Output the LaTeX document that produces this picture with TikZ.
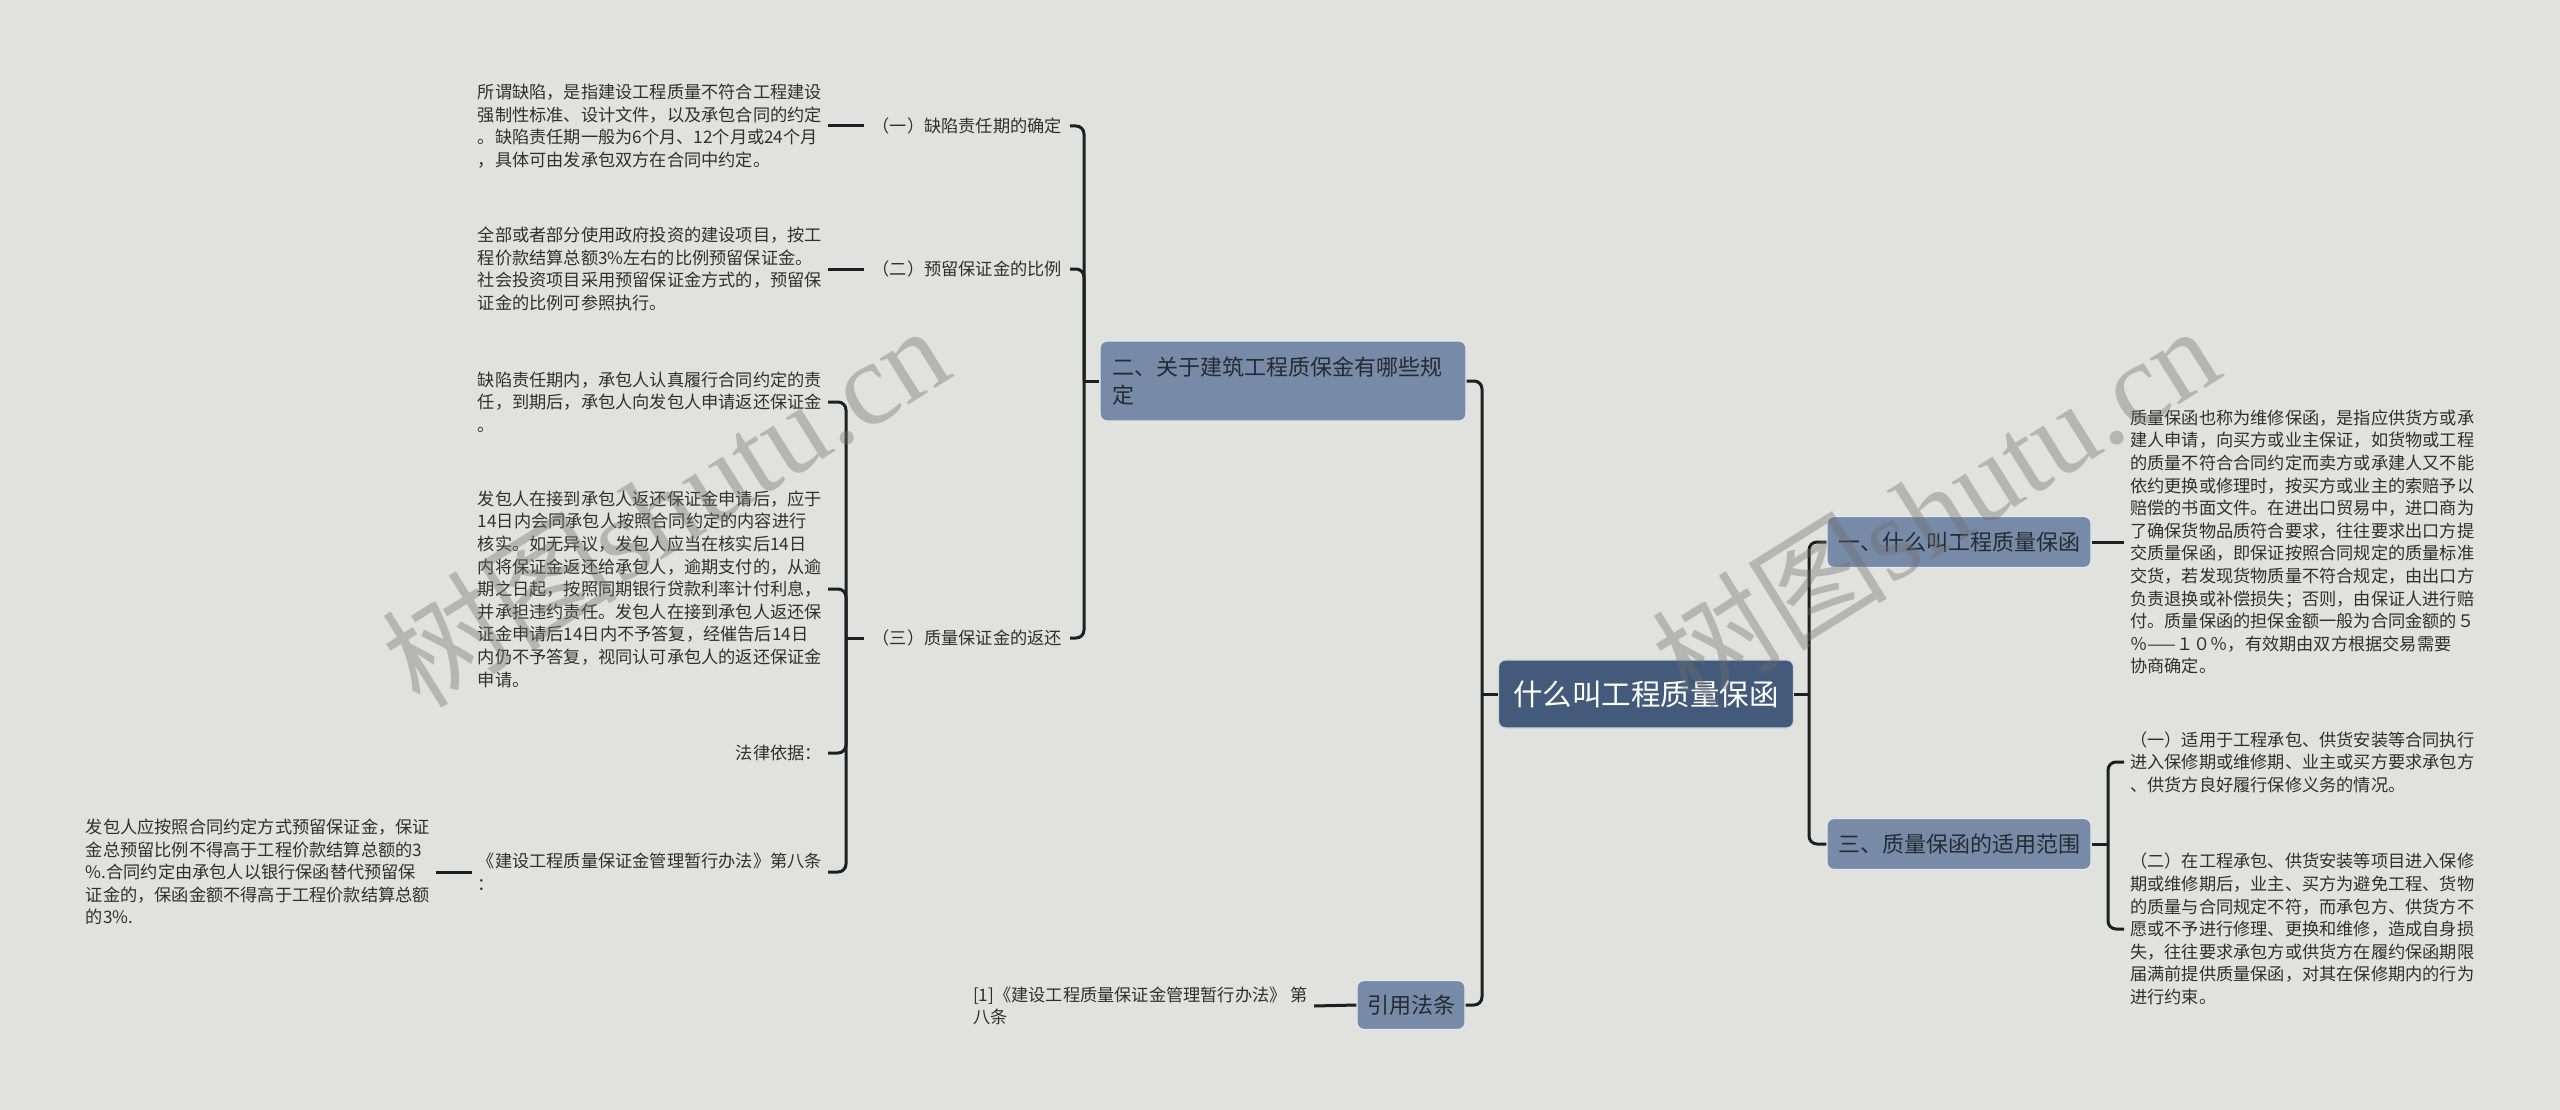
\documentclass[tikz,border=0pt]{standalone}
\usepackage{fontspec}
\setmainfont{Noto Sans CJK SC}
\newfontfamily\wmlatin{Liberation Serif}
\definecolor{bgc}{RGB}{225,225,221}
\definecolor{rootfill}{RGB}{67,90,122}
\definecolor{lvlfill}{RGB}{119,139,168}
\definecolor{lvltext}{RGB}{38,42,50}
\definecolor{linec}{RGB}{28,31,36}
\definecolor{leaftext}{RGB}{48,48,48}
\definecolor{wmc}{RGB}{110,110,108}
\newcommand\leaffont{\fontsize{17.2pt}{22.6pt}\selectfont}
\newcommand\boxfont{\fontsize{22pt}{28pt}\selectfont}
\newcommand\rootfont{\fontsize{29.5pt}{34pt}\selectfont}
\tikzset{
  conn/.style={draw=linec, line width=3pt, rounded corners=8pt},
  leaf/.style={font=\leaffont, text=leaftext, align=left, inner xsep=6pt, inner ysep=2pt},
  lbl/.style={font=\leaffont, text=leaftext, inner xsep=8pt, inner ysep=2pt, anchor=east},
  lvl/.style={fill=lvlfill, draw=white!80!lvlfill, line width=1.2pt, rounded corners=7pt,
              text=lvltext, font=\boxfont, inner sep=0pt},
  rootbox/.style={fill=rootfill, draw=white!75!rootfill, line width=1.2pt, rounded corners=7pt,
              text=white, font=\rootfont, inner sep=0pt, minimum width=295pt, minimum height=68pt},
  wm/.style={text=wmc, opacity=0.38, font=\fontsize{118pt}{120pt}\selectfont, inner sep=0pt}
}
\begin{document}
\begin{tikzpicture}[x=1pt,y=-1pt]
\useasboundingbox (0,0) rectangle (2560,1110);
\fill[bgc] (0,0) rectangle (2560,1110);

% root
\node[rootbox] (root) at (1646,694) {什么叫工程质量保函};

% level 1
\node[lvl, minimum width=366pt, minimum height=80pt, text width=342pt, align=left]
  (n2) at (1283,381) {二、关于建筑工程质保金有哪些规\\定};
\node[lvl, minimum width=108pt, minimum height=49pt] (cite) at (1411,1005) {引用法条};
\node[lvl, minimum width=264pt, minimum height=51pt] (n1) at (1959,542) {一、什么叫工程质量保函};
\node[lvl, minimum width=264pt, minimum height=51pt] (n3) at (1959,844) {三、质量保函的适用范围};

% junctions
\coordinate (jL) at (1482,694);
\coordinate (jR) at (1809,694);
\coordinate (j2) at (1084,381);
\coordinate (j3) at (846,638);
\coordinate (j4) at (2108,844);

% level 2 labels under n2
\node[lbl] (c1) at (1070,126) {（一）缺陷责任期的确定};
\node[lbl] (c2) at (1070,269) {（二）预留保证金的比例};
\node[lbl] (c3) at (1070,638) {（三）质量保证金的返还};

% leaves of c1, c2
\node[leaf, anchor=east] (l1) at (828,126) {所谓缺陷，是指建设工程质量不符合工程建设\\强制性标准、设计文件，以及承包合同的约定\\。缺陷责任期一般为6个月、12个月或24个月\\，具体可由发承包双方在合同中约定。};
\node[leaf, anchor=east] (l2) at (828,269) {全部或者部分使用政府投资的建设项目，按工\\程价款结算总额3\%左右的比例预留保证金。\\社会投资项目采用预留保证金方式的，预留保\\证金的比例可参照执行。};

% children of c3
\node[leaf, anchor=east] (d1) at (828,402) {缺陷责任期内，承包人认真履行合同约定的责\\任，到期后，承包人向发包人申请返还保证金\\。};
\node[leaf, anchor=east] (d2) at (828,589) {发包人在接到承包人返还保证金申请后，应于\\14日内会同承包人按照合同约定的内容进行\\核实。如无异议，发包人应当在核实后14日\\内将保证金返还给承包人，逾期支付的，从逾\\期之日起，按照同期银行贷款利率计付利息，\\并承担违约责任。发包人在接到承包人返还保\\证金申请后14日内不予答复，经催告后14日\\内仍不予答复，视同认可承包人的返还保证金\\申请。};
\node[leaf, anchor=east] (d3) at (828,753) {法律依据：};
\node[leaf, anchor=east] (d4) at (828,872) {《建设工程质量保证金管理暂行办法》第八条\\：};
\node[leaf, anchor=east] (e1) at (436,872) {发包人应按照合同约定方式预留保证金，保证\\金总预留比例不得高于工程价款结算总额的3\\\%.合同约定由承包人以银行保函替代预留保\\证金的，保函金额不得高于工程价款结算总额\\的3\%.};

% cite leaf
\node[leaf, anchor=east] (cl) at (1314,1006) {[1]《建设工程质量保证金管理暂行办法》 第\\八条};

% right leaves
\node[leaf, anchor=west] (r1) at (2124,542) {质量保函也称为维修保函，是指应供货方或承\\建人申请，向买方或业主保证，如货物或工程\\的质量不符合合同约定而卖方或承建人又不能\\依约更换或修理时，按买方或业主的索赔予以\\赔偿的书面文件。在进出口贸易中，进口商为\\了确保货物品质符合要求，往往要求出口方提\\交质量保函，即保证按照合同规定的质量标准\\交货，若发现货物质量不符合规定，由出口方\\负责退换或补偿损失；否则，由保证人进行赔\\付。质量保函的担保金额一般为合同金额的５\\％——１０％，有效期由双方根据交易需要\\协商确定。};
\node[leaf, anchor=west] (r2) at (2124,762) {（一）适用于工程承包、供货安装等合同执行\\进入保修期或维修期、业主或买方要求承包方\\、供货方良好履行保修义务的情况。};
\node[leaf, anchor=west] (r3) at (2124,929) {（二）在工程承包、供货安装等项目进入保修\\期或维修期后，业主、买方为避免工程、货物\\的质量与合同规定不符，而承包方、供货方不\\愿或不予进行修理、更换和维修，造成自身损\\失，往往要求承包方或供货方在履约保函期限\\届满前提供质量保函，对其在保修期内的行为\\进行约束。};

% connectors: root left
\draw[conn] (root.west) -- (jL);
\draw[conn] (jL) |- (n2.east);
\draw[conn] (jL) |- (cite.east);
% root right
\draw[conn] (root.east) -- (jR);
\draw[conn] (jR) |- (n1.west);
\draw[conn] (jR) |- (n3.west);
% n2 subtree
\draw[conn] (n2.west) -- (j2);
\draw[conn] (j2) |- (c1.east);
\draw[conn] (j2) |- (c2.east);
\draw[conn] (j2) |- (c3.east);
\draw[conn] (c1.west) -- (l1.east);
\draw[conn] (c2.west) -- (l2.east);
% c3 subtree
\draw[conn] (c3.west) -- (j3);
\draw[conn] (j3) |- (d1.east);
\draw[conn] (j3) |- (d2.east);
\draw[conn] (j3) |- (d3.east);
\draw[conn] (j3) |- (d4.east);
\draw[conn] (d4.west) -- (e1.east);
% cite
\draw[conn] (cite.west) -- (cl.east);
% right subtree
\draw[conn] (n1.east) -- (r1.west);
\draw[conn] (n3.east) -- (j4);
\draw[conn] (j4) |- (r2.west);
\draw[conn] (j4) |- (r3.west);

% watermarks
\node[wm, rotate=32] (wm1) at (665,505) {树图{\wmlatin shutu.cn}};
\node[wm, rotate=32] (wm2) at (1935,505) {树图{\wmlatin shutu.cn}};
\end{tikzpicture}
\end{document}
